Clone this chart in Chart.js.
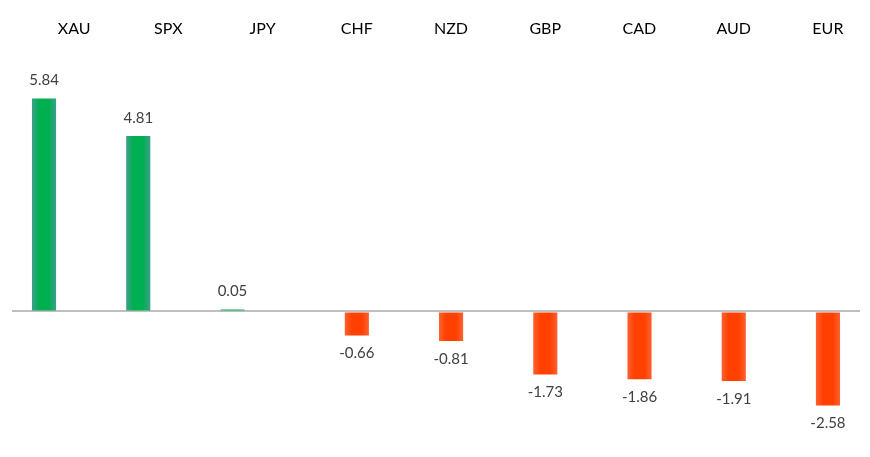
<!DOCTYPE html>
<html>
<head>
<meta charset="utf-8">
<script src="https://cdn.jsdelivr.net/npm/chart.js@4.4.0/dist/chart.umd.min.js"></script>
<style>
  html, body { margin: 0; padding: 0; background: #fff; }
  #wrap { width: 870px; height: 457px; }
</style>
</head>
<body>
<div id="wrap"><canvas id="chart"></canvas></div>
<script>
// Data
const symbols = ['XAU', 'SPX', 'JPY', 'CHF', 'NZD', 'GBP', 'CAD', 'AUD', 'EUR'];
const gains = [5.84, 4.81, 0.05, null, null, null, null, null, null];
const losses = [null, null, null, -0.66, -0.81, -1.73, -1.86, -1.91, -2.58];

const catPct = 0.64;
const barPct = 0.8;

// horizontal gradient across each bar, lighter at the edges
function barFill(edge, mid) {
  return function(c) {
    const chart = c.chart;
    const x = chart.scales.x;
    if (!chart.chartArea || !x) return mid;
    const catW = x.width / symbols.length;
    const part = catW * catPct / 2;
    const center = x.getPixelForValue(c.dataIndex) + (c.datasetIndex - 0.5) * part;
    const half = part * barPct / 2;
    const g = chart.ctx.createLinearGradient(center - half, 0, center + half, 0);
    g.addColorStop(0, edge);
    g.addColorStop(0.3, mid);
    g.addColorStop(0.7, mid);
    g.addColorStop(1, edge);
    return g;
  };
}

const valueLabels = {
  id: 'valueLabels',
  afterDatasetsDraw(chart) {
    const ctx = chart.ctx;
    ctx.save();
    ctx.font = '15px Lato, "Open Sans", sans-serif';
    ctx.fillStyle = '#404040';
    ctx.textAlign = 'center';
    ctx.textBaseline = 'middle';
    chart.data.datasets.forEach((ds, di) => {
      chart.getDatasetMeta(di).data.forEach((el, i) => {
        const v = ds.data[i];
        if (v === null) return;
        const y = v >= 0 ? el.y - 18 : el.y + 18;
        ctx.fillText(v.toFixed(2), el.x, y);
      });
    });
    ctx.restore();
  }
};

new Chart(document.getElementById('chart'), {
  type: 'bar',
  data: {
    labels: symbols,
    datasets: [
      {
        data: gains,
        backgroundColor: barFill('#3c9f8c', '#00b050'),
        categoryPercentage: catPct,
        barPercentage: barPct
      },
      {
        data: losses,
        backgroundColor: barFill('#ff6030', '#ff4000'),
        categoryPercentage: catPct,
        barPercentage: barPct
      }
    ]
  },
  options: {
    responsive: true,
    maintainAspectRatio: false,
    animation: false,
    layout: { padding: { left: 12, right: 10, top: 9, bottom: 18 } },
    plugins: {
      legend: { display: false },
      tooltip: { enabled: false }
    },
    scales: {
      x: {
        position: 'top',
        grid: { display: false },
        border: { display: false },
        ticks: {
          color: '#000',
          labelOffset: 15,
          padding: 10,
          font: { family: 'Lato, "Open Sans", sans-serif', size: 16 }
        }
      },
      y: {
        min: -3.5,
        max: 7,
        ticks: { display: false, stepSize: 0.5 },
        border: { display: false },
        grid: {
          drawTicks: false,
          lineWidth: 2,
          color: c => c.tick && c.tick.value === 0 ? '#bfbfbf' : 'rgba(0,0,0,0)'
        }
      }
    }
  },
  plugins: [valueLabels]
});
</script>
</body>
</html>
